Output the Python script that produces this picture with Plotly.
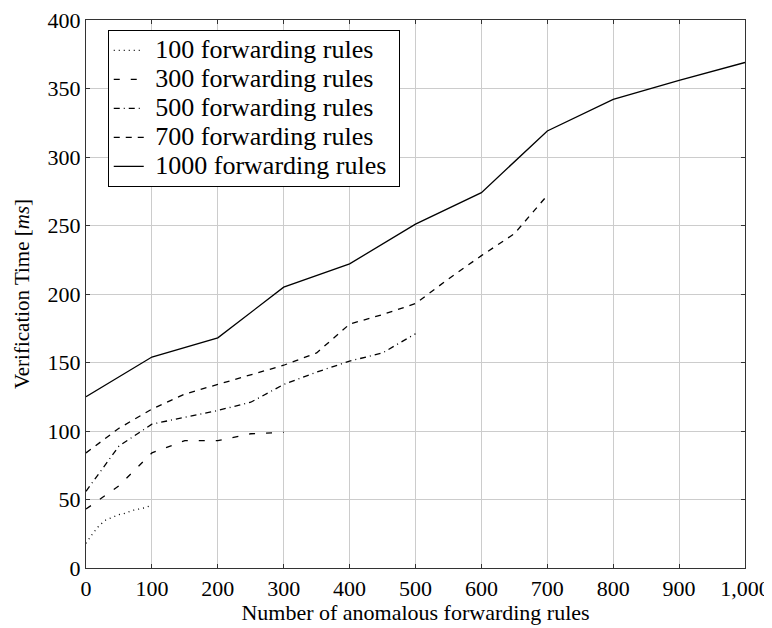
import plotly.graph_objects as go

# Data
x_100 = [0, 10, 20, 30, 40, 50, 60, 70, 80, 90, 100]
y_100 = [18, 25, 31, 35, 37, 39, 40, 42, 43, 44, 46]

x_300 = [0, 50, 100, 150, 200, 250, 300]
y_300 = [43, 60, 84, 93, 93, 98, 99]

x_500 = [0, 50, 100, 150, 200, 250, 300, 350, 400, 450, 500]
y_500 = [56, 89, 105, 110, 115, 121, 134, 143, 151, 157, 171]

x_700 = [0, 50, 100, 150, 200, 250, 300, 350, 400, 450, 500, 550, 600, 650, 700]
y_700 = [84, 102, 116, 127, 134, 141, 148, 157, 178, 185, 193, 211, 228, 244, 272]

x_1000 = [0, 100, 200, 300, 400, 500, 600, 700, 800, 900, 1000]
y_1000 = [125, 154, 168, 205, 222, 251, 274, 319, 342, 356, 369]

series = [
    ("100 forwarding rules", x_100, y_100, "1px,4px"),
    ("300 forwarding rules", x_300, y_300, "6px,11px"),
    ("500 forwarding rules", x_500, y_500, "6px,4px,1px,4px"),
    ("700 forwarding rules", x_700, y_700, "6px,6px"),
    ("1000 forwarding rules", x_1000, y_1000, "solid"),
]

fig = go.Figure()
for name, xs, ys, dash in series:
    fig.add_trace(go.Scatter(
        x=xs, y=ys, mode="lines",
        name='<span style="font-size:26px">\u00a0' + name + '\u00a0</span>',
        line=dict(color="black", width=1.3, dash=dash),
    ))

font_family = "Times New Roman"

fig.update_layout(
    width=764, height=620,
    margin=dict(l=78, r=27, t=12, b=60),
    paper_bgcolor="white", plot_bgcolor="white",
    font=dict(family=font_family, size=22, color="black"),
    showlegend=True,
    legend=dict(
        x=0.033, y=0.982, xanchor="left", yanchor="top",
        bgcolor="white", bordercolor="black", borderwidth=1,
        font=dict(family=font_family, size=20, color="black"),
        tracegroupgap=0, itemwidth=30,
    ),
)

fig.update_xaxes(
    range=[0, 1000], tickmode="linear", tick0=0, dtick=100, tickformat=",",
    showgrid=True, gridcolor="#cccccc", gridwidth=1,
    showline=True, linecolor="#333333", linewidth=1.2, mirror="ticks",
    ticks="inside", ticklen=4, tickcolor="#333333",
    zeroline=False, automargin=False, ticklabeloverflow="allow",
    title=dict(text="Number of anomalous forwarding rules", standoff=1,
               font=dict(family=font_family, size=22)),
    tickfont=dict(family=font_family, size=22),
)
fig.update_yaxes(
    range=[0, 400], tickmode="linear", tick0=0, dtick=50,
    showgrid=True, gridcolor="#cccccc", gridwidth=1,
    showline=True, linecolor="#333333", linewidth=1.2, mirror="ticks",
    ticks="inside", ticklen=4, tickcolor="#333333",
    zeroline=False, automargin=False, ticklabeloverflow="allow",
    title=dict(text="Verification Time [<i>ms</i>]", standoff=12,
               font=dict(family=font_family, size=21)),
    tickfont=dict(family=font_family, size=22),
)

fig.write_html("out.html")
